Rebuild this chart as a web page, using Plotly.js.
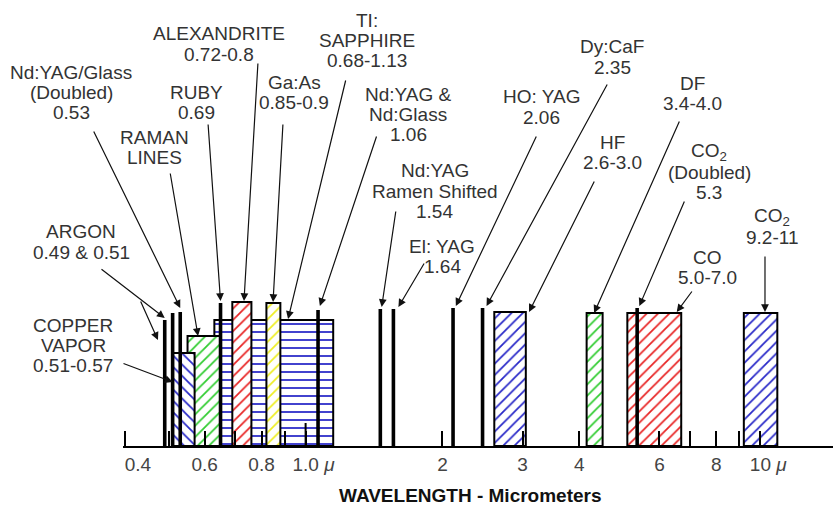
<!DOCTYPE html>
<html><head><meta charset="utf-8">
<script src="https://cdn.plot.ly/plotly-3.0.1.min.js"></script>
<style>html,body{margin:0;padding:0;background:#fff}#chart{width:833px;height:505px}</style>
</head><body><div id="chart"></div>
<script>
// ---------- data ----------
const tickVals = [0.4, 0.6, 0.8, 1, 2, 3, 4, 6, 8, 10];
const tickText = ['0.4', '0.6', '0.8', '1.0 <i>μ</i>', '2', '3', '4', '6', '8', '10 <i>μ</i>'];
const minorTickVals = [0.5, 0.7, 0.9, 7, 9];
const longTickVals = [1, 10];
const axisTitle = 'WAVELENGTH - Micrometers';

// laser bands (wavelength ranges, micrometres) as drawn
const bandNames  = ['Ti:Sapphire', 'Raman lines', 'Copper vapor', 'Alexandrite', 'Ga:As', 'HF', 'DF', 'CO', 'CO2'];
const bandStart  = [0.63, 0.55, 0.51, 0.69, 0.82, 2.6, 4.15, 5.1, 9.2];
const bandEnd    = [1.15, 0.65, 0.57, 0.76, 0.88, 3.05, 4.5, 6.7, 10.9];
const bandHeight = [126, 110, 93, 144, 143, 134, 133, 133, 133];

// single laser lines (micrometres) as drawn
const lineNames   = ['Argon 0.49', 'Argon 0.51', 'Nd:YAG/Glass doubled', 'Ruby', 'Nd:YAG & Nd:Glass', 'Nd:YAG Raman shifted', 'Er:YAG', 'Ho:YAG', 'Dy:CaF', 'CO2 doubled'];
const lineValues  = [0.49, 0.51, 0.53, 0.65, 1.065, 1.46, 1.56, 2.11, 2.45, 5.36];
const lineHeights = [126, 133, 134, 143, 136, 137, 137, 138, 138, 138];

// ---------- styles ----------
const bandColors = ['#2828c8', '#30cc30', '#2828c8', '#e82424', '#eeee22', '#2828c8', '#30cc30', '#e82424', '#2828c8'];
const bandShapes = ['-', '/', '\\', '/', '/', '/', '/', '/', '/'];
// small left padding of tick labels so the numbers sit where the reference puts them
const tickPad = [5, 0, 0, 3, 0, 0, 0, 0, 0, 3];

// ---------- geometry of the page ----------
const W = 833, H = 505, PLOT_L = 123, BASE_Y = 446;
const PX_AT_1 = 305.6, PX_PER_DEC = 454.7;
const xRange = [(PLOT_L - PX_AT_1) / PX_PER_DEC, (W - PX_AT_1) / PX_PER_DEC];
function pxOf(v) { return PX_AT_1 + PX_PER_DEC * Math.log10(v); }

const FONT = 'Liberation Sans, Arial, sans-serif';

// ---------- traces ----------
const traces = [];
bandNames.forEach((n, i) => {
  const a = bandStart[i], b = bandEnd[i], h = bandHeight[i];
  traces.push({
    type: 'scatter', mode: 'lines', name: n,
    x: [a, a, b, b, a], y: [0, h, h, 0, 0],
    fill: 'toself', fillcolor: 'white',
    fillpattern: {shape: bandShapes[i], fgcolor: bandColors[i], bgcolor: 'white', size: 8, solidity: 0.22},
    line: {color: '#000', width: 2},
    hoverinfo: 'name', showlegend: false
  });
});
const lx = [], ly = [];
lineValues.forEach((v, i) => { lx.push(v, v, null); ly.push(0, lineHeights[i], null); });
traces.push({type: 'scatter', mode: 'lines', x: lx, y: ly, line: {color: '#000', width: 3.6},
  hoverinfo: 'skip', showlegend: false});

// ---------- labels ----------
const labels = [
  {t: ['Nd:YAG/Glass', '(Doubled)', '0.53'], x: 71, y: 72},
  {t: ['RAMAN', 'LINES'], x: 154, y: 137},
  {t: ['RUBY', '0.69'], x: 196, y: 92},
  {t: ['ALEXANDRITE', '0.72-0.8'], x: 219, y: 34},
  {t: ['Ga:As', '0.85-0.9'], x: 294, y: 82},
  {t: ['TI:', 'SAPPHIRE', '0.68-1.13'], x: 367, y: 20},
  {t: ['Nd:YAG &', 'Nd:Glass', '1.06'], x: 408, y: 94},
  {t: ['Nd:YAG', 'Ramen Shifted', '1.54'], x: 435, y: 171},
  {t: ['El: YAG', '1.64'], x: 442, y: 246},
  {t: ['HO: YAG', '2.06'], x: 541, y: 97},
  {t: ['Dy:CaF', '2.35'], x: 612, y: 47},
  {t: ['HF', '2.6-3.0'], x: 612, y: 142},
  {t: ['DF', '3.4-4.0'], x: 692, y: 83},
  {t: ['CO<sub>2</sub>', '(Doubled)', '5.3'], x: 709, y: 152},
  {t: ['CO', '5.0-7.0'], x: 707, y: 257},
  {t: ['CO<sub>2</sub>', '9.2-11'], x: 772, y: 217},
  {t: ['ARGON', '0.49 &amp; 0.51'], x: 81, y: 232},
  {t: ['COPPER', 'VAPOR', '0.51-0.57'], x: 73, y: 325}
];
// arrows: head at (value, height above baseline), tail at page pixel
const arrows = [
  {v: 0.53, h: 138, tail: [93, 130]},
  {v: 0.58, h: 110, tail: [170, 172]},
  {v: 0.65, h: 145, tail: [208, 123]},
  {v: 0.732, h: 145, tail: [258, 62]},
  {v: 0.848, h: 144, tail: [283, 123]},
  {v: 0.915, h: 127, tail: [346, 79]},
  {v: 1.075, h: 140, tail: [377, 135]},
  {v: 1.47, h: 139, tail: [396, 210]},
  {v: 1.6, h: 139, tail: [425, 262]},
  {v: 2.14, h: 140, tail: [537, 135]},
  {v: 2.5, h: 140, tail: [608, 83]},
  {v: 3.1, h: 134, tail: [595, 180]},
  {v: 4.31, h: 133, tail: [680, 120]},
  {v: 5.42, h: 140, tail: [685, 200]},
  {v: 6.55, h: 134, tail: [693, 290]},
  {v: 10.24, h: 134, tail: [765, 255]},
  {v: 0.49, h: 128, tail: [100, 268]},
  {v: 0.4735, h: 106, tail: [140, 300]},
  {v: 0.51, h: 64, tail: [122, 363]}
];

const annotations = [];
labels.forEach(l => {
  l.t.forEach((s, k) => {
    annotations.push({xref: 'paper', yref: 'paper', x: l.x / W, y: (H - (l.y + k * 20.3)) / H,
      xanchor: 'center', yanchor: 'middle', showarrow: false, text: s,
      font: {family: FONT, size: 19, color: '#333'}});
  });
});
arrows.forEach(a => {
  const hx = pxOf(a.v), hy = BASE_Y - a.h;
  annotations.push({xref: 'x', yref: 'y', x: Math.log10(a.v), y: a.h,
    ax: a.tail[0] - hx, ay: a.tail[1] - hy, axref: 'pixel', ayref: 'pixel',
    text: '', showarrow: true, arrowhead: 2, arrowsize: 1.3, arrowwidth: 1.2,
    arrowcolor: '#111', standoff: 0});
});
// axis title
annotations.push({xref: 'paper', yref: 'paper', x: 470 / W, y: (H - 495) / H,
  xanchor: 'center', yanchor: 'middle', showarrow: false, text: '<b>' + axisTitle + '</b>',
  font: {family: FONT, size: 19, color: '#111'}});

const shapes = longTickVals.map(v => ({type: 'line', xref: 'x', yref: 'y',
  x0: Math.log10(v), x1: Math.log10(v), y0: 0, y1: 23, line: {color: '#000', width: 2}, layer: 'above'}));

const paddedTickText = tickText.map((t, i) => '\u00a0'.repeat(tickPad[i]) + t);

const layout = {
  width: W, height: H, margin: {l: 0, r: 0, t: 0, b: 0},
  paper_bgcolor: '#fff', plot_bgcolor: '#fff', showlegend: false,
  font: {family: FONT},
  xaxis: {
    type: 'log', range: xRange, domain: [PLOT_L / W, 1],
    showgrid: false, zeroline: false, showline: true, linecolor: '#000', linewidth: 2,
    ticks: 'inside', ticklen: 15, tickwidth: 2, tickcolor: '#000',
    tickmode: 'array', tickvals: tickVals, ticktext: paddedTickText, tickangle: 0,
    tickfont: {family: FONT, size: 19, color: '#444'},
    minor: {tickmode: 'array', tickvals: minorTickVals, ticks: 'inside', ticklen: 15, tickwidth: 2, tickcolor: '#000', showgrid: false},
    title: {text: ''},
    fixedrange: true
  },
  yaxis: {range: [0, BASE_Y], domain: [(H - BASE_Y) / H, 1], visible: false, fixedrange: true},
  annotations: annotations, shapes: shapes
};
Plotly.newPlot('chart', traces, layout, {displayModeBar: false, staticPlot: true});
</script></body></html>
